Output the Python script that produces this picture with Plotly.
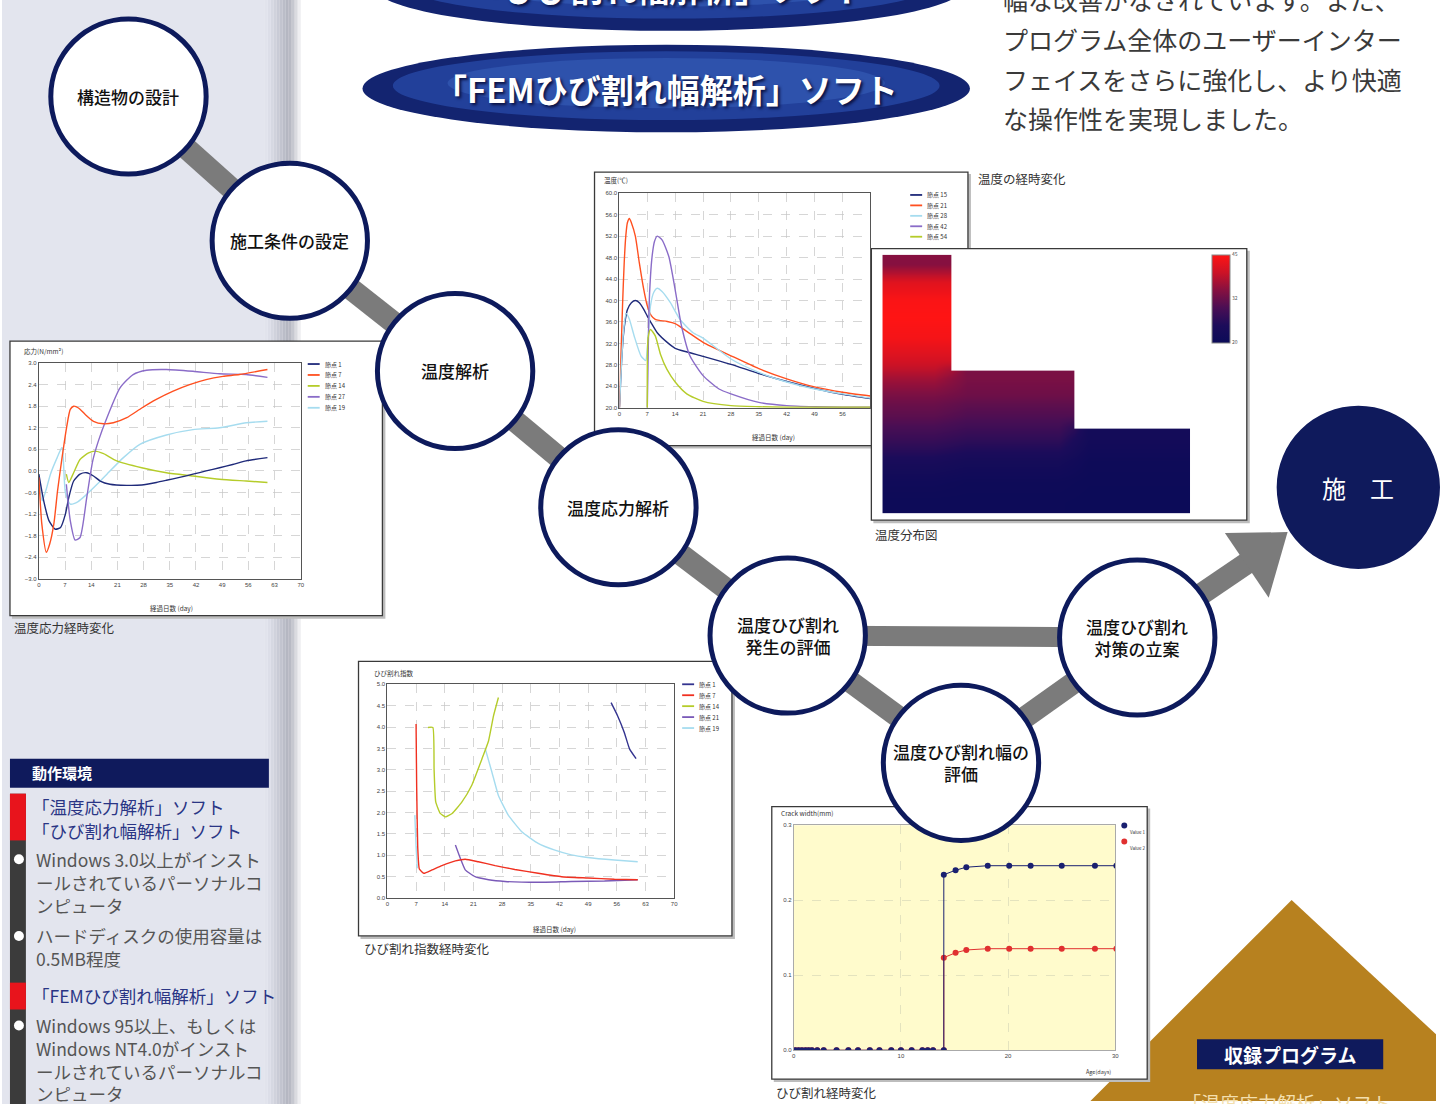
import plotly.graph_objects as go

W, H = 1440, 1104
def X(p): return p / W
def Y(p): return 1 - p / H

FONT = "Noto Sans CJK JP"

# ---------------- data ----------------
# Temperature over time (温度の経時変化)
temp_names = ["節点 15", "節点 21", "節点 28", "節点 42", "節点 54"]
t15_day = [0, 0.5, 1, 1.5, 2, 3, 4, 5, 6, 7, 8, 9.5, 12, 14, 17, 21, 28, 35, 42, 49, 56, 63]
t15_val = [20, 28, 33.5, 36.5, 38.3, 39.6, 40, 39.6, 38.5, 37.1, 35.8, 34, 32.2, 31.1, 30.4, 29.6, 28.1, 26.4, 24.9, 23.6, 22.5, 21.7]
t21_day = [0, 0.4, 0.8, 1.2, 1.6, 2.0, 2.5, 3.0, 4, 5, 6, 7, 8, 9, 10, 12, 14, 17, 21, 28, 35, 42, 49, 56, 63]
t21_val = [20, 30, 39.5, 47, 52, 54.5, 55.3, 54.5, 52, 47, 42.5, 39, 37.2, 36.5, 36.3, 36.1, 35.7, 34.2, 32.2, 29.7, 27.3, 25.4, 23.9, 22.9, 22.2]
t28_day = [0, 0.5, 1, 1.7, 2.5, 3.7, 5.4, 6.6, 7, 7.8, 8.6, 9.5, 10.7, 12.8, 15.2, 18.5, 21, 28, 35, 42, 49, 56, 63]
t28_val = [20, 28, 34, 37.6, 36.5, 33.4, 29.7, 28.8, 31, 39, 41.5, 42.3, 41.7, 39.6, 36.5, 34, 33, 29.1, 26.6, 24.8, 23.5, 22.6, 21.8]
t42_day = [7, 7.4, 7.8, 8.2, 8.8, 9.5, 10.7, 12.4, 14, 15.6, 17.7, 21, 25, 28, 35, 42, 49, 56, 63]
t42_val = [20, 38, 44.5, 48.2, 51, 52, 51.3, 48.2, 42, 35.2, 29.7, 26, 23.5, 22.6, 21, 20.4, 20.2, 20.1, 20.1]
t54_day = [7, 7.2, 7.8, 9, 10.3, 11.9, 14, 16.9, 21, 28, 35, 42, 49, 56, 63]
t54_val = [20, 33, 34.6, 33.4, 30, 27.2, 24.8, 22.6, 21.2, 20.4, 20.2, 20.1, 20.1, 20.1, 20.1]
temp_ticks_x = [0, 7, 14, 21, 28, 35, 42, 49, 56]

# Thermal stress over time (温度応力経時変化)
stress_names = ["節点 1", "節点 7", "節点 14", "節点 27", "節点 19"]
s1_day = [0, 1.3, 2.7, 4.4, 5.8, 7.1, 8.0, 9.3, 11, 12.8, 14.6, 16.4, 19, 23.5, 27.5, 31.4, 34.1, 37.6, 41.2, 44.7, 48.3, 51.8, 55.4, 61.1]
s1_val = [-0.09, -0.83, -1.38, -1.62, -1.57, -1.2, -0.74, -0.28, -0.09, -0.05, -0.14, -0.28, -0.37, -0.4, -0.39, -0.32, -0.26, -0.18, -0.09, 0.0, 0.09, 0.18, 0.28, 0.37]
s7_day = [0, 0.8, 2.0, 2.9, 4.0, 5.0, 6.2, 7.4, 8.4, 9.3, 10.6, 12.4, 14.6, 17.3, 19.9, 23.5, 27.5, 31.4, 35.9, 40.3, 44.7, 49.2, 53.6, 61.1]
s7_val = [-0.18, -1.48, -2.26, -2.03, -1.48, -0.55, 0.37, 1.2, 1.71, 1.8, 1.75, 1.57, 1.38, 1.31, 1.34, 1.48, 1.75, 1.99, 2.22, 2.4, 2.54, 2.63, 2.68, 2.82]
s14_day = [7.35, 8.0, 9.3, 11, 13.3, 15, 17.3, 20.8, 27.5, 34.1, 41.2, 48.3, 55.4, 61.1]
s14_val = [-0.09, -0.32, -0.05, 0.32, 0.5, 0.55, 0.48, 0.28, 0.09, -0.05, -0.14, -0.23, -0.28, -0.32]
s27_day = [7.35, 8.4, 9.7, 11, 12.8, 14.4, 15.9, 18.2, 21.7, 25.2, 28.8, 34.1, 41.2, 48.3, 55.4, 61.1]
s27_val = [-0.37, -1.38, -1.92, -1.85, -0.74, 0.28, 0.83, 1.48, 2.31, 2.68, 2.8, 2.82, 2.77, 2.7, 2.68, 2.6]
s19_day = [0, 0.9, 2.0, 3.1, 4.9, 6.2, 7.1, 8.4, 10.5, 12.8, 15.5, 18.2, 22.6, 27, 34.1, 41.2, 48.3, 55.4, 61.1]
s19_val = [-0.1, -0.83, -0.5, -0.09, 0.37, 0.65, -0.6, -0.92, -0.85, -0.65, -0.38, -0.09, 0.37, 0.74, 1.0, 1.15, 1.2, 1.34, 1.38]

# Crack index over time (ひび割れ指数経時変化)
index_names = ["節点 1", "節点 7", "節点 14", "節点 21", "節点 19"]
i1_day = [54.6, 56.2, 57.8, 59.1, 60.7]
i1_val = [4.57, 4.26, 3.88, 3.49, 3.26]
i7_day = [7.0, 7.15, 7.4, 7.8, 8.9, 10.9, 13.3, 16.6, 19.0, 22.2, 26.3, 31.1, 36.8, 42.5, 48.9, 55.4, 61.1]
i7_val = [4.07, 2.6, 1.2, 0.68, 0.58, 0.66, 0.76, 0.87, 0.91, 0.85, 0.76, 0.67, 0.58, 0.5, 0.47, 0.44, 0.43]
i14_day = [9.9, 11.1, 11.4, 11.8, 12.9, 14.2, 15.8, 18.2, 20.6, 23.1, 24.7, 25.9, 27.1]
i14_val = [3.99, 3.99, 3.0, 2.25, 1.98, 1.9, 1.98, 2.25, 2.64, 3.26, 3.68, 4.26, 4.69]
i21_day = [16.6, 17.8, 19.0, 21.4, 24.7, 28.7, 36.8, 44.9, 53.0, 61.1]
i21_val = [1.24, 0.93, 0.66, 0.5, 0.43, 0.39, 0.37, 0.39, 0.4, 0.43]
i19_day = [6.7, 7.0, 7.3, None, 23.9, 25.5, 27.1, 29.5, 32.8, 36.8, 40.9, 44.9, 48.9, 55.4, 61.1]
i19_val = [1.94, 1.2, 0.7, None, 3.49, 2.95, 2.4, 1.94, 1.55, 1.28, 1.12, 1.01, 0.95, 0.89, 0.85]

# Crack width over time (ひび割れ経時変化)
width_names = ["Value 1", "Value 2"]
w_day = [0.15, 0.46, 0.77, 1.1, 1.4, 1.7, 2.2, 2.8, 4.0, 5.1, 6.0, 7.1, 8.0, 9.1, 10.0, 11.0, 12.0, 12.5, 13.0, 14.0,
         14.0, 15.1, 16.1, 18.1, 20.1, 22.1, 25.0, 28.1, 30.1]
w1_val = [0] * 20 + [0.234, 0.240, 0.244, 0.246, 0.246, 0.246, 0.246, 0.246, 0.246]
w2_val = [0] * 20 + [0.1235, 0.130, 0.1337, 0.1354, 0.1354, 0.1354, 0.1354, 0.1354, 0.1354]

# Temperature distribution (温度分布図): cell edges [m] and vertical profiles (bottom -> top) [°C]
hm_x_edges = [0, 0.5, 1.0, 1.45, 1.9, 2.35, 2.8, 3.22, 3.64, 4.06, 4.48]
hm_y_edges = [0, 0.3, 0.6, 0.9, 1.25, 1.6, 1.85, 2.09, 2.4, 2.7, 3.0, 3.25, 3.5, 3.77]
hm_col_region = ["A", "A", "B", "B", "B", "B", "C", "C", "C", "C"]
profile_A = [20.5, 21.5, 24, 28, 31.5, 34, 37, 41, 44, 45, 44.5, 42, 35]
profile_B = [20.5, 21, 23, 27, 30.5, 33, 34]
profile_C = [20.2, 20.5, 21, 22.5]

# Flow chart
flow_labels = ["構造物の設計", "施工条件の設定", "温度解析", "温度応力解析",
               "温度ひび割れ<br>発生の評価", "温度ひび割れ幅の<br>評価", "温度ひび割れ<br>対策の立案"]

# ---------------- colours ----------------
NAVY = "#1f2a7a"; ORANGE = "#ff5020"; CYAN = "#a6dcef"; PURPLE = "#8a6cc8"; YGREEN = "#b5cc2a"
temp_colors = [NAVY, ORANGE, CYAN, PURPLE, YGREEN]
stress_colors = [NAVY, ORANGE, YGREEN, PURPLE, CYAN]
index_colors = ["#33338f", "#f03020", YGREEN, "#7a5ab8", CYAN]
width_colors = ["#1a2070", "#e03030"]

fig = go.Figure()

def lines(xs, ys, color, xa, ya, smooth=0.6):
    fig.add_trace(go.Scatter(x=xs, y=ys, mode="lines", xaxis=xa, yaxis=ya, showlegend=False,
                             line=dict(color=color, width=1.4, shape="spline", smoothing=smooth),
                             hoverinfo="skip"))

for xs, ys, c in zip([t15_day, t21_day, t28_day, t42_day, t54_day],
                     [t15_val, t21_val, t28_val, t42_val, t54_val], temp_colors):
    lines(xs, ys, c, "x", "y")
for xs, ys, c in zip([s19_day, s14_day, s1_day, s27_day, s7_day],
                     [s19_val, s14_val, s1_val, s27_val, s7_val],
                     [stress_colors[4], stress_colors[2], stress_colors[0], stress_colors[3], stress_colors[1]]):
    lines(xs, ys, c, "x2", "y2")
for xs, ys, c in zip([i19_day, i14_day, i21_day, i7_day, i1_day],
                     [i19_val, i14_val, i21_val, i7_val, i1_val],
                     [index_colors[4], index_colors[2], index_colors[3], index_colors[1], index_colors[0]]):
    lines(xs, ys, c, "x3", "y3", smooth=0.4)
for ys, c in [(w2_val, width_colors[1]), (w1_val, width_colors[0])]:
    fig.add_trace(go.Scatter(x=w_day, y=ys, mode="lines+markers", xaxis="x4", yaxis="y4", showlegend=False,
                             line=dict(color=c, width=1), marker=dict(color=c, size=6), hoverinfo="skip"))

profiles = {"A": profile_A, "B": profile_B, "C": profile_C}
z = []
for r in range(len(hm_y_edges) - 1):
    row = []
    for reg in hm_col_region:
        p = profiles[reg]
        row.append(p[r] if r < len(p) else None)
    z.append(row)
fig.add_trace(go.Heatmap(
    x=hm_x_edges, y=hm_y_edges, z=z, xaxis="x5", yaxis="y5", zmin=20, zmax=45, hoverinfo="skip",
    zsmooth="best",
    colorscale=[[0, "#0b0b58"], [0.2, "#1c0c5a"], [0.4, "#4a0e54"], [0.6, "#861040"],
                [0.8, "#cc1226"], [1, "#ff1414"]],
    colorbar=dict(x=X(1215), xanchor="left", y=Y(253), yanchor="top", len=88, lenmode="pixels",
                  thickness=18, thicknessmode="pixels", xpad=0, ypad=0, outlinewidth=1, outlinecolor="#888",
                  tickvals=[20, 32.5, 45], ticktext=["20", "32", "45"], ticks="", tickfont=dict(size=5, color="#555"))))

def axis(dom, rng, dtick=None, fmt=None, anchor=None, tickvals=None, lc="#555", gc="#c4c4c4"):
    d = dict(domain=dom, range=rng, showgrid=True, gridcolor=gc, griddash="dash", gridwidth=0.7,
             showline=True, linecolor=lc, linewidth=1, mirror=True, zeroline=False, ticks="",
             tickfont=dict(size=6, color="#444", family="Arial"), fixedrange=True, anchor=anchor)
    if dtick is not None:
        d.update(dtick=dtick, tick0=0)
    if tickvals is not None:
        d.update(tickmode="array", tickvals=tickvals)
    if fmt:
        d.update(tickformat=fmt)
    return d

fig.update_layout(
    xaxis=axis([X(620), X(872)], [0, 63], anchor="y", tickvals=temp_ticks_x),
    yaxis=axis([Y(407), Y(191.3)], [20, 60], dtick=4, fmt=".1f", anchor="x"),
    xaxis2=axis([X(37), X(300)], [0, 70], dtick=7, anchor="y2"),
    yaxis2=axis([Y(579), Y(362)], [-3, 3], dtick=0.6, fmt=".1f", anchor="x2"),
    xaxis3=axis([X(387), X(675)], [0, 70], dtick=7, anchor="y3"),
    yaxis3=axis([Y(900), Y(685)], [0, 5], dtick=0.5, fmt=".1f", anchor="x3"),
    xaxis4=axis([X(795), X(1118)], [0, 30], dtick=10, anchor="y4", lc="#aaa", gc="#d8d8b8"),
    yaxis4=axis([Y(1053), Y(826.7)], [0, 0.3], dtick=0.1, fmt=".1f", anchor="x4", lc="#aaa", gc="#d8d8b8"),
    xaxis5=dict(domain=[X(884), X(1193)], range=[0, 4.48], visible=False, anchor="y5", fixedrange=True),
    yaxis5=dict(domain=[Y(513), Y(253)], range=[0, 3.77], visible=False, anchor="x5", fixedrange=True),
)

shapes = []
ann = []

def rect(x0, y0, x1, y1, fill, line=None, lw=0, layer="below"):
    shapes.append(dict(type="rect", xref="paper", yref="paper", x0=X(x0), x1=X(x1), y0=Y(y1), y1=Y(y0),
                       fillcolor=fill, line=dict(color=line or fill, width=lw), layer=layer))

def circle(cx, cy, r, fill, line=None, lw=0, layer="below"):
    shapes.append(dict(type="circle", xref="paper", yref="paper", x0=X(cx - r), x1=X(cx + r),
                       y0=Y(cy + r), y1=Y(cy - r), fillcolor=fill,
                       line=dict(color=line or fill, width=lw), layer=layer))

def seg(x0, y0, x1, y1, color, w, layer="below"):
    shapes.append(dict(type="line", xref="paper", yref="paper", x0=X(x0), y0=Y(y0), x1=X(x1), y1=Y(y1),
                       line=dict(color=color, width=w), layer=layer))

def path(pts, fill, layer="below"):
    d = "M " + " L ".join(f"{X(a)},{Y(b)}" for a, b in pts) + " Z"
    shapes.append(dict(type="path", xref="paper", yref="paper", path=d, fillcolor=fill,
                       line=dict(width=0), layer=layer))

def text(x, y, s, size=12, color="#333", anchor="left", weight="normal", shadow=None):
    f = dict(family=FONT, size=size, color=color, weight=weight)
    if shadow:
        f["shadow"] = shadow
    ann.append(dict(x=X(x), y=Y(y), xref="paper", yref="paper", text=s, showarrow=False,
                    xanchor=anchor, yanchor="middle", font=f, align="center"))

# left strip background with fold shading
rect(0, -5, 264, H + 5, "#e3e5ee")
shade = ["#e1e3ec", "#dcdee8", "#d6d8e2", "#d0d2dc", "#c9cbd6", "#c2c4cf", "#bbbdc8", "#b5b7c2",
         "#b8bac4", "#c6c8d0", "#dadbe0", "#eeeef1"]
for k, c in enumerate(shade):
    rect(264 + 3 * k, -5, 267 + 3 * k, H + 5, c)

# golden triangle
path([(1295, 902), (1440, 1037), (1440, H), (1093, H)], "#b7811f")

# connectors
centers = [(127, 94), (289, 239), (455, 370), (619, 507), (789, 636), (963, 764), (1140, 638)]
GRAY = "#7b7b7b"
for (a, b), (c, d) in zip(centers[:-1], centers[1:]):
    seg(a, b, c, d, GRAY, 22)
seg(789, 636, 1140, 638, GRAY, 20)
seg(1140, 638, 1252, 562, GRAY, 22)
path([(1228, 533), (1291, 532), (1272, 598)], GRAY)

# chart frames (shadow + white panel)
frames = [(8, 340, 382, 616), (595, 170, 970, 445), (873, 247, 1250, 520), (358, 662, 733, 938), (773, 808, 1150, 1082)]
for (x0, y0, x1, y1) in frames:
    rect(x0 + 2, y0 + 2, x1 + 3, y1 + 3, "#bdbdbd")
    rect(x0, y0, x1, y1, "#ffffff", line="#3a3a3a", lw=1.3)

shapes.append(dict(type="rect", xref="x4 domain", yref="y4 domain", x0=0, x1=1, y0=0, y1=1,
                   fillcolor="#fffbcc", line=dict(width=0), layer="below"))

# header ellipses
for (cx, cy, rx, ry) in [(670, -16, 296, 44), (667, 86, 305, 44)]:
    shapes.append(dict(type="circle", xref="paper", yref="paper", x0=X(cx - rx), x1=X(cx + rx),
                       y0=Y(cy + ry), y1=Y(cy - ry), fillcolor="#132470", line=dict(width=0), layer="below"))
    shapes.append(dict(type="circle", xref="paper", yref="paper", x0=X(cx - rx * 0.9), x1=X(cx + rx * 0.9),
                       y0=Y(cy + ry * 0.72), y1=Y(cy - ry * 0.85), fillcolor="#22409a", line=dict(width=0), layer="below"))
    shapes.append(dict(type="circle", xref="paper", yref="paper", x0=X(cx - rx * 0.72), x1=X(cx + rx * 0.72),
                       y0=Y(cy + ry * 0.45), y1=Y(cy - ry * 0.7), fillcolor="#2e52ac", line=dict(width=0), layer="below"))
text(670, -15, "「ひび割れ幅解析」ソフト", size=33, color="#ffffff", anchor="center", weight="bold",
     shadow="2px 2px 3px #0a1040")
text(667, 86, "「FEMひび割れ幅解析」ソフト", size=33, color="#ffffff", anchor="center", weight="bold",
     shadow="2px 2px 3px #0a1040")

# 施工 circle
circle(1362, 487, 82, "#0f1a5c")
text(1362, 487, "施　工", size=24, color="#ffffff", anchor="center")

# flow circles (above charts)
for (cx, cy), lab in zip(centers, flow_labels):
    circle(cx, cy, 78, "#ffffff", line="#0d1a5c", lw=5, layer="above")
    text(cx, cy, lab, size=17 if cx > 100 else 16, color="#111111", anchor="center", weight=500)

# chart captions and axis titles
text(978, 176, "温度の経時変化", 12.5)
text(875, 534, "温度分布図", 12.5)
text(10, 628, "温度応力経時変化", 12.5)
text(362, 951, "ひび割れ指数経時変化", 12.5)
text(775, 1095, "ひび割れ経時変化", 12.5)
text(603, 178, "温度(℃)", 6.5)
text(775, 436, "経過日数 (day)", 6.5, anchor="center")
text(20, 350, "応力(N/mm²)", 6.5)
text(170, 608, "経過日数 (day)", 6.5, anchor="center")
text(372, 674, "ひび割れ指数", 6.5)
text(555, 931, "経過日数 (day)", 6.5, anchor="center")
text(780, 814, "Crack width(mm)", 6.5)
text(1116, 1075, "Age(days)", 5.5, anchor="right")

def legend(names, colors, lx, ly, dy):
    for k, (nm, c) in enumerate(zip(names, colors)):
        seg(lx, ly + k * dy, lx + 12, ly + k * dy, c, 1.8, layer="above")
        text(lx + 15, ly + k * dy, nm, 6)
legend(temp_names, temp_colors, 912, 193, 10.5)
legend(stress_names, stress_colors, 307, 363, 11)
legend(index_names, index_colors, 683, 685, 11)
for k, (nm, c) in enumerate(zip(width_names, width_colors)):
    circle(1127, 827 + 16 * k, 3, c, layer="above")
    text(1131, 834 + 16 * k, nm, 4.5)

# top-right paragraph
para = ["幅な改善がなされています。また、", "プログラム全体のユーザーインター",
        "フェイスをさらに強化し、より快適", "な操作性を実現しました。"]
for k, s in enumerate(para):
    text(1003, -4 + 40 * k, s, 25, color="#3a3a3a")

# left panel: operating environment
rect(8, 760, 268, 789, "#0f1a5c")
text(28, 774, "動作環境", 15, color="#ffffff", weight="bold")
rect(8, 795, 24, H + 5, "#3b3b3b")
rect(8, 795, 24, 842, "#e8141c")
rect(8, 985, 24, 1012, "#e8141c")
for yy in [861, 938, 1028]:
    circle(17, yy, 5, "#ffffff")
left_lines = [
    (808, "「温度応力解析」ソフト", "#2a3585", 28),
    (832, "「ひび割れ幅解析」ソフト", "#2a3585", 28),
    (861, "Windows 3.0以上がインスト", "#555555", 32),
    (884, "ールされているパーソナルコ", "#555555", 32),
    (907, "ンピュータ", "#555555", 32),
    (938, "ハードディスクの使用容量は", "#555555", 32),
    (961, "0.5MB程度", "#555555", 32),
    (998, "「FEMひび割れ幅解析」ソフト", "#2a3585", 28),
    (1028, "Windows 95以上、もしくは", "#555555", 32),
    (1051, "Windows NT4.0がインスト", "#555555", 32),
    (1074, "ールされているパーソナルコ", "#555555", 32),
    (1096, "ンピュータ", "#555555", 32),
]
for yy, s, c, xx in left_lines:
    text(xx, yy, s, 17.5, color=c)

rect(1200, 1042, 1387, 1072, "#0f1a5c")
text(1293, 1057, "収録プログラム", 19, color="#ffffff", anchor="center", weight="bold")
text(1290, 1106, "「温度応力解析」ソフト", 19, color="#f3dfae", anchor="center")

fig.update_layout(width=W, height=H, margin=dict(l=0, r=0, t=0, b=0),
                  paper_bgcolor="#ffffff", plot_bgcolor="rgba(0,0,0,0)",
                  shapes=shapes, annotations=ann, showlegend=False,
                  font=dict(family=FONT))
fig.write_html("out.html", config={"displayModeBar": False, "staticPlot": True},
               post_script="document.body.style.margin='0';document.body.style.padding='0';"
                           "document.body.style.overflow='hidden';")
